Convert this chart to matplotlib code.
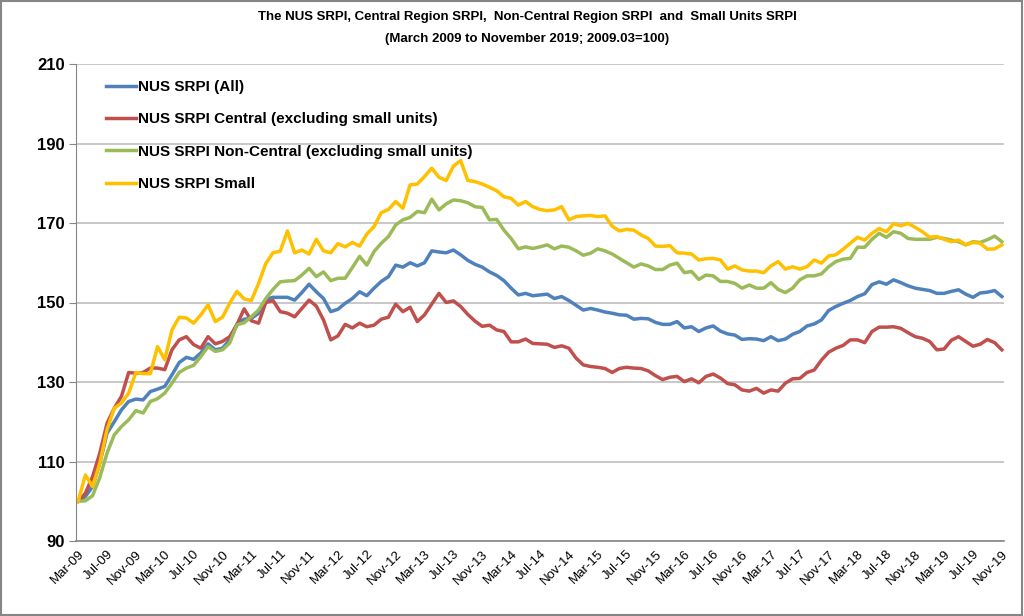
import numpy as np
import matplotlib
matplotlib.use("Agg")
import matplotlib.pyplot as plt
from matplotlib.patches import Rectangle

# monthly index values, Mar-09 .. Nov-19 (2009.03 = 100)
srpi_all = [
    100.0, 101.2, 103.7, 109.6, 117.1, 120.0, 123.0, 125.1, 125.7, 125.5,
    127.6, 128.2, 128.9, 131.8, 134.9, 136.2, 135.7, 137.3, 139.6, 138.1,
    138.5, 140.6, 144.6, 145.8, 146.0, 147.3, 150.8, 151.3, 151.3, 151.3,
    150.6, 152.5, 154.6, 152.7, 151.0, 147.7, 148.3, 149.8, 151.0, 152.7,
    151.7, 153.6, 155.3, 156.5, 159.4, 158.9, 160.0, 159.2, 160.0, 163.0,
    162.7, 162.5, 163.2, 162.0, 160.6, 159.6, 158.9, 157.7, 156.8, 155.5,
    153.6, 151.9, 152.3, 151.7, 151.9, 152.1, 151.0, 151.5, 150.5, 149.3,
    148.1, 148.5, 148.1, 147.6, 147.3, 146.9, 146.8, 145.8, 146.0, 145.9,
    145.0, 144.5, 144.5, 145.2, 143.6, 143.9, 142.7, 143.6, 144.1, 142.8,
    142.1, 141.8, 140.7, 140.9, 140.8, 140.4, 141.4, 140.4, 140.8, 142.0,
    142.7, 144.1, 144.6, 145.6, 148.0, 149.0, 149.8, 150.5, 151.5, 152.2,
    154.5, 155.2, 154.6, 155.7, 155.0, 154.2, 153.6, 153.3, 153.0, 152.3,
    152.3, 152.8, 153.2, 152.1, 151.3, 152.4, 152.6, 153.0, 151.5,
]
srpi_central = [
    100.0, 102.0, 106.2, 112.1, 119.6, 123.4, 126.4, 132.4, 132.2, 132.4,
    133.5, 133.5, 133.1, 138.1, 140.6, 141.4, 139.4, 138.5, 141.4, 139.6,
    140.2, 141.4, 144.4, 148.4, 145.4, 144.8, 150.0, 150.5, 147.7, 147.3,
    146.4, 148.5, 150.6, 149.1, 145.6, 140.6, 141.6, 144.5, 143.6, 144.8,
    143.9, 144.3, 145.8, 146.3, 149.6, 147.7, 148.8, 145.2, 146.9, 149.6,
    152.3, 150.0, 150.4, 149.0, 147.0, 145.3, 144.0, 144.3, 143.1, 142.7,
    140.1, 140.1, 140.8, 139.7, 139.6, 139.5, 138.7, 139.1, 138.5, 136.0,
    134.3, 133.9, 133.7, 133.4, 132.4, 133.4, 133.7, 133.5, 133.4, 132.8,
    131.6, 130.6, 131.2, 131.4, 130.1, 130.8, 129.8, 131.4, 132.0, 131.0,
    129.6, 129.3, 128.0, 127.7, 128.4, 127.2, 128.0, 127.7, 129.7, 130.8,
    130.9, 132.4, 133.0, 135.5, 137.5, 138.5, 139.2, 140.6, 140.6, 139.9,
    142.7, 143.8, 143.8, 143.9, 143.5, 142.4, 141.4, 141.0, 140.2, 138.1,
    138.3, 140.5, 141.4, 140.2, 139.0, 139.5, 140.7, 139.9, 138.1,
]
srpi_non_central = [
    100.0, 100.1, 101.4, 106.0, 112.1, 116.7, 118.8, 120.5, 122.8, 122.2,
    125.1, 125.8, 127.2, 129.7, 132.4, 133.5, 134.2, 136.4, 138.9, 137.7,
    138.1, 139.8, 144.4, 144.9, 146.4, 148.1, 151.0, 153.3, 155.2, 155.4,
    155.5, 156.9, 158.6, 156.5, 157.7, 155.5, 156.1, 156.1, 158.8, 161.6,
    159.4, 162.8, 164.9, 166.6, 169.5, 170.8, 171.4, 172.9, 172.6, 176.0,
    173.3, 174.8, 175.8, 175.6, 175.1, 174.1, 173.9, 170.8, 170.9, 168.2,
    166.1, 163.5, 164.0, 163.6, 164.0, 164.5, 163.5, 164.2, 163.9, 163.0,
    161.9, 162.4, 163.5, 163.0, 162.2, 161.1, 160.0, 158.9, 159.7, 159.2,
    158.3, 158.3, 159.4, 159.9, 157.5, 157.8, 155.8, 156.9, 156.7, 155.3,
    155.3, 154.8, 153.6, 154.4, 153.6, 153.6, 155.0, 153.3, 152.5, 153.6,
    155.7, 156.7, 156.7, 157.2, 159.0, 160.3, 160.9, 161.1, 163.9, 163.9,
    165.9, 167.4, 166.4, 167.8, 167.4, 166.1, 165.9, 165.9, 165.9, 166.4,
    166.1, 165.7, 165.3, 164.5, 165.3, 165.1, 165.8, 166.7, 165.3,
]
srpi_small = [
    100.0, 106.6, 103.7, 109.6, 118.0, 123.4, 124.7, 127.2, 132.4, 132.1,
    132.1, 138.9, 135.6, 143.1, 146.3, 146.1, 144.8, 146.9, 149.4, 145.2,
    146.3, 149.8, 152.8, 150.9, 150.5, 154.8, 159.8, 162.5, 162.9, 168.0,
    162.5, 163.2, 162.2, 165.9, 163.0, 162.5, 164.8, 164.0, 165.1, 164.2,
    167.2, 169.1, 172.6, 173.4, 175.4, 173.7, 179.6, 179.8, 181.7, 183.8,
    181.5, 180.7, 184.3, 185.7, 180.7, 180.4, 179.8, 179.0, 178.1, 176.6,
    176.2, 174.5, 175.4, 174.1, 173.4, 173.1, 173.3, 174.1, 170.8, 171.6,
    171.8, 171.9, 171.6, 171.8, 169.2, 168.0, 168.4, 168.2, 167.0, 166.1,
    164.2, 164.1, 164.3, 162.5, 162.4, 162.2, 160.7, 161.0, 161.1, 160.7,
    158.4, 159.2, 158.2, 157.9, 157.9, 157.5, 159.2, 160.3, 158.4, 159.0,
    158.4, 159.0, 160.7, 159.9, 161.7, 162.0, 163.4, 164.9, 166.4, 165.7,
    167.4, 168.6, 167.8, 169.8, 169.3, 169.9, 168.9, 167.8, 166.4, 166.6,
    165.9, 165.3, 165.7, 164.5, 165.1, 164.9, 163.4, 163.5, 164.5,
]

# one label every 4 months
tick_labels = [
    "Mar-09", "Jul-09", "Nov-09", "Mar-10", "Jul-10", "Nov-10", "Mar-11",
    "Jul-11", "Nov-11", "Mar-12", "Jul-12", "Nov-12", "Mar-13", "Jul-13",
    "Nov-13", "Mar-14", "Jul-14", "Nov-14", "Mar-15", "Jul-15", "Nov-15",
    "Mar-16", "Jul-16", "Nov-16", "Mar-17", "Jul-17", "Nov-17", "Mar-18",
    "Jul-18", "Nov-18", "Mar-19", "Jul-19", "Nov-19",
]
series_names = [
    "NUS SRPI (All)",
    "NUS SRPI Central (excluding small units)",
    "NUS SRPI Non-Central (excluding small units)",
    "NUS SRPI Small",
]

plt.rcParams["font.family"] = ["Liberation Sans", "DejaVu Sans"]

fig = plt.figure(figsize=(10.24, 6.16), dpi=100)
ax = fig.add_axes([76 / 1024, 1 - 541 / 616, 928 / 1024, 477 / 616])

x = np.arange(len(srpi_all))
colors = ["#4F81BD", "#C0504D", "#9BBB59", "#FFC000"]
for vals, name, c in zip([srpi_all, srpi_central, srpi_non_central, srpi_small], series_names, colors):
    ax.plot(x, vals, color=c, lw=2.5, label=name, solid_joinstyle="round")

ax.set_ylim(90, 210)
ax.set_yticks(np.arange(90, 211, 20))
ax.set_xlim(-0.3, len(x) - 0.7)
ax.set_xticks(np.arange(0, len(x), 4))
ax.set_xticklabels(tick_labels, rotation=45, ha="right", rotation_mode="anchor", fontsize=9.5)
for lab in ax.get_yticklabels():
    lab.set_fontweight("bold")
    lab.set_fontsize(12)

ax.grid(axis="y", color="#BFBFBF", lw=1.2)
ax.set_axisbelow(True)
for s in ["top", "right"]:
    ax.spines[s].set_visible(False)
ax.spines["left"].set_color("#868686")
ax.spines["bottom"].set_color("#868686")
ax.spines["bottom"].set_linewidth(1.2)
ax.tick_params(axis="y", length=5, color="#868686", pad=3)
ax.tick_params(axis="x", length=0, pad=5)

leg = ax.legend(loc="upper left", bbox_to_anchor=(0.017, 0.995), frameon=False,
                prop={"weight": "bold", "size": 11}, handlelength=2.0,
                handletextpad=0.15, labelspacing=1.2)

fig.text(0.515, 0.972, "The NUS SRPI, Central Region SRPI,  Non-Central Region SRPI  and  Small Units SRPI",
         ha="center", va="center", fontsize=9.5, fontweight="bold")
fig.text(0.515, 0.936, "(March 2009 to November 2019; 2009.03=100)",
         ha="center", va="center", fontsize=9.5, fontweight="bold")

fig.patches.append(Rectangle((0.001, 0.002), 0.997, 0.996, transform=fig.transFigure,
                             fill=False, edgecolor="#868686", lw=1.5))

fig.savefig("out.png", dpi=100)
